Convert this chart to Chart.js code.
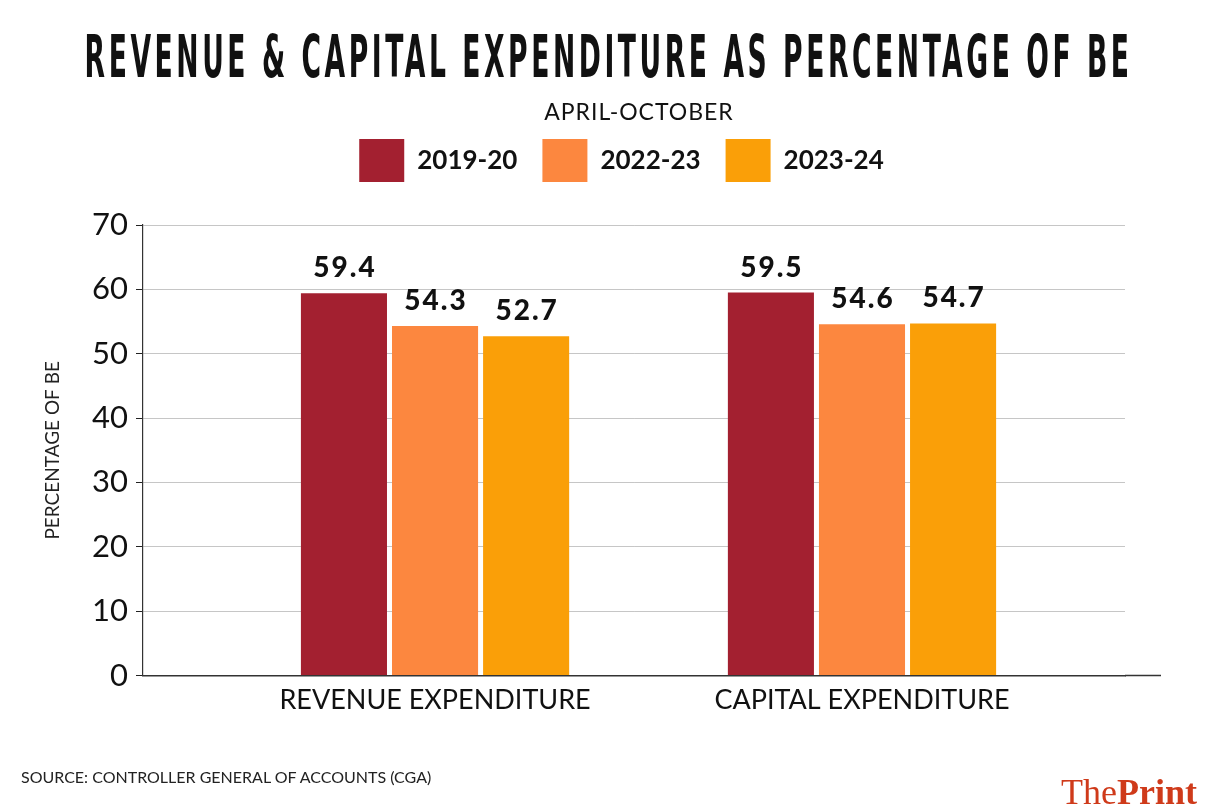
<!DOCTYPE html>
<html lang="en">
<head>
<meta charset="utf-8">
<title>Revenue &amp; Capital Expenditure as Percentage of BE</title>
<script src="https://cdn.jsdelivr.net/npm/chart.js@4.4.1/dist/chart.umd.min.js"></script>
<style>
  body { margin: 0; background: #fff; }
  .page { position: relative; width: 1223px; height: 806px; overflow: hidden; font-family: Lato, 'Noto Sans', sans-serif; color: #111; }
  #chart { position: absolute; left: 0; top: 0; }
  .title { position: absolute; left: 0; top: 28px; white-space: nowrap; font-family: 'Liberation Sans Narrow', 'DejaVu Sans Condensed', sans-serif; font-weight: bold; font-size: 58px; line-height: 58px; letter-spacing: 7px; transform-origin: 50% 50%; }
  .sub { position: absolute; left: 0; top: 100px; width: 1278px; text-align: center; font-size: 23px; line-height: 23px; letter-spacing: 1px; }
  .source { position: absolute; left: 21px; top: 769px; font-size: 16px; line-height: 16px; color: #222; }
  .logo { position: absolute; left: 1061px; top: 774px; font-family: 'Liberation Serif', serif; font-size: 36px; line-height: 36px; color: #cf3a1a; }
</style>
</head>
<body>
<div class="page">
  <canvas id="chart" width="1223" height="806"></canvas>
  <div class="title">REVENUE &amp; CAPITAL EXPENDITURE AS PERCENTAGE OF BE</div>
  <div class="sub">APRIL-OCTOBER</div>
  <div class="source">SOURCE: CONTROLLER GENERAL OF ACCOUNTS (CGA)</div>
  <div class="logo">The<b>Print</b></div>
</div>
<script>
// Data
const categories = ['REVENUE EXPENDITURE', 'CAPITAL EXPENDITURE'];
const seriesNames = ['2019-20', '2022-23', '2023-24'];
const values2019 = [59.4, 59.5];
const values2022 = [54.3, 54.6];
const values2023 = [52.7, 54.7];
const seriesColors = ['#a32030', '#fc873f', '#fa9f08'];
const yTicks = [0, 10, 20, 30, 40, 50, 60, 70];

// squeeze the title to the width it has in the picture, centred on x=608
const titleEl = document.querySelector('.title');
const titleW = titleEl.getBoundingClientRect().width;
titleEl.style.left = (608.5 - titleW / 2) + 'px';
titleEl.style.transform = 'scaleX(' + (1048 / titleW) + ')';

// value labels above each bar
const valueLabels = {
  id: 'valueLabels',
  afterDatasetsDraw(chart) {
    const ctx = chart.ctx;
    ctx.save();
    ctx.font = '900 28px Lato, sans-serif';
    ctx.letterSpacing = '2px';
    ctx.fillStyle = '#111';
    ctx.textAlign = 'center';
    ctx.textBaseline = 'alphabetic';
    chart.data.datasets.forEach((ds, di) => {
      chart.getDatasetMeta(di).data.forEach((bar, i) => {
        ctx.fillText(ds.data[i].y.toFixed(1), bar.x + 1, bar.y - 16);
      });
    });
    ctx.restore();
  }
};

// the baseline runs a bit past the gridlines
const axisExtend = {
  id: 'axisExtend',
  afterDraw(chart) {
    const { ctx, chartArea } = chart;
    ctx.save();
    ctx.strokeStyle = '#333';
    ctx.lineWidth = 1.5;
    ctx.beginPath();
    ctx.moveTo(chartArea.right, chartArea.bottom);
    ctx.lineTo(chartArea.right + 36, chartArea.bottom);
    ctx.stroke();
    ctx.restore();
  }
};

const spacer = (size) => ({
  display: true,
  grid: { display: false, drawTicks: false },
  border: { display: false },
  ticks: { display: false },
  afterFit: (a) => { if (a.isHorizontal()) a.height = size; else a.width = size; }
});

const datasets = [values2019, values2022, values2023].map((vals, s) => ({
  label: seriesNames[s],
  data: vals.map((v, i) => ({ x: i + 1, y: v })),
  backgroundColor: seriesColors[s],
  borderWidth: 0,
  categoryPercentage: 0.64,
  barPercentage: 0.945
}));

new Chart(document.getElementById('chart'), {
  type: 'bar',
  data: { datasets },
  plugins: [valueLabels, axisExtend],
  options: {
    responsive: false,
    animation: false,
    layout: { padding: { top: 114, left: 20, right: 0, bottom: 82 } },
    plugins: {
      tooltip: { enabled: false },
      legend: {
        position: 'top',
        labels: {
          boxWidth: 45, boxHeight: 43, padding: 25, color: '#111',
          font: { family: 'Lato', size: 26, weight: 'bold' }
        }
      }
    },
    scales: {
      x: {
        type: 'linear', min: 0.316, max: 2.616, offset: false,
        afterBuildTicks: (axis) => { axis.ticks = categories.map((c, i) => ({ value: i + 1 })); },
        grid: { display: false, drawTicks: false, offset: false },
        border: { color: '#333', width: 1.5 },
        ticks: {
          padding: 8, color: '#111', autoSkip: false, maxRotation: 0,
          font: { family: 'Lato', size: 27 },
          callback: (v) => categories[v - 1] ?? ''
        }
      },
      y: {
        min: 0, max: 70,
        afterBuildTicks: (axis) => { axis.ticks = yTicks.map((v) => ({ value: v })); },
        afterFit: (axis) => { axis.width = 123; },
        grid: { color: '#c6c6c6', lineWidth: 1, tickColor: '#222', tickLength: 7 },
        border: { color: '#333', width: 1.2 },
        ticks: { padding: 8, color: '#111', font: { family: 'Lato', size: 31 } },
        title: {
          display: true, text: 'PERCENTAGE OF BE', color: '#222',
          font: { family: 'Lato', size: 19 }, padding: { top: 21, bottom: 0 }
        }
      },
      xSpacer: Object.assign({ position: 'top' }, spacer(33)),
      ySpacer: Object.assign({ position: 'right' }, spacer(98))
    }
  }
});
</script>
</body>
</html>
